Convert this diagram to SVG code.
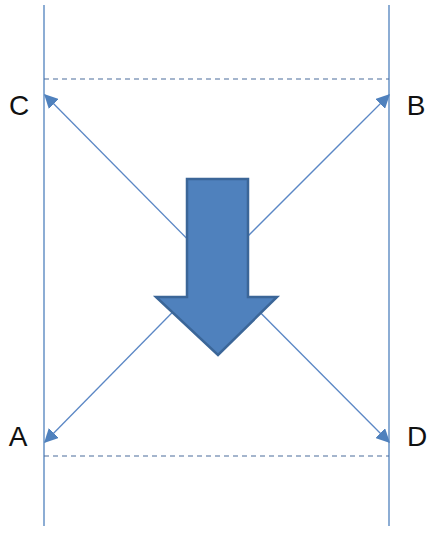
<svg xmlns="http://www.w3.org/2000/svg" width="430" height="533" viewBox="0 0 430 533">
  <defs>
    <style>
      .rail { stroke: #4f81bd; stroke-width: 1.3; fill: none; }
      .dash { stroke: #4a6c9c; stroke-width: 1.2; stroke-dasharray: 5 4; fill: none; }
      .diag { stroke: #5b87c5; stroke-width: 1.3; fill: none; marker-end: url(#head); }
      .lbl { font-family: "Liberation Sans", Arial, sans-serif; font-size: 28px; fill: #111; text-anchor: middle; }
    </style>
    <marker id="head" viewBox="0 0 10 10" refX="9" refY="5" markerWidth="14" markerHeight="14" markerUnits="userSpaceOnUse" orient="auto">
      <path d="M0,0 L10,5 L0,10 Z" fill="#4f81bd"/>
    </marker>
  </defs>
  <rect width="430" height="533" fill="#ffffff"/>

  <g id="frame">
    <line class="rail" x1="44" y1="5" x2="44" y2="526"/>
    <line class="rail" x1="389" y1="5" x2="389" y2="526"/>
    <line class="dash" x1="44" y1="79" x2="389" y2="79"/>
    <line class="dash" x1="44" y1="456" x2="389" y2="456"/>
  </g>

  <g id="connectors">
    <line class="diag" x1="216" y1="268" x2="45" y2="95"/>
    <line class="diag" x1="216" y1="268" x2="389" y2="95"/>
    <line class="diag" x1="216" y1="268" x2="45" y2="442"/>
    <line class="diag" x1="216" y1="268" x2="389" y2="442"/>
  </g>

  <g id="down-arrow">
    <path d="M187,179 L248,179 L248,297 L277,297 L218,355 L156,297 L187,297 Z" fill="#4f81bd" stroke="#3b6698" stroke-width="2.5" stroke-linejoin="miter"/>
  </g>

  <g id="node-C"><text class="lbl" x="19" y="115">C</text></g>
  <g id="node-B"><text class="lbl" x="416" y="115">B</text></g>
  <g id="node-A"><text class="lbl" x="18" y="446">A</text></g>
  <g id="node-D"><text class="lbl" x="417" y="446">D</text></g>
</svg>
